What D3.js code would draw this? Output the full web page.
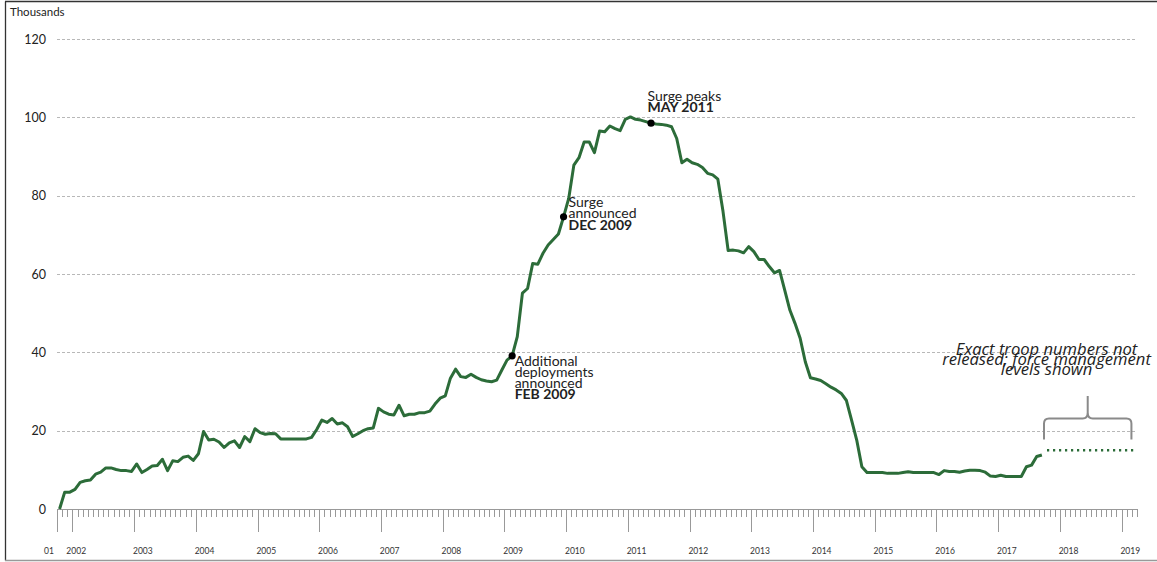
<!DOCTYPE html>
<html>
<head>
<meta charset="utf-8">
<script src="https://cdn.jsdelivr.net/npm/d3@7"></script>
<style>
  html, body { margin: 0; padding: 0; background: #fff; }
  svg { display: block; font-family: Lato, "Open Sans", sans-serif; }
</style>
</head>
<body>
<svg id="chart" width="1157" height="562"></svg>
<script>
// ---- Data (thousands of US troops, monthly from Oct 2001) ----
const startLabel = "Oct 2001";
const troopValues = [
  0, 4.3, 4.3, 5.0, 6.8, 7.2, 7.4, 8.9, 9.4, 10.5, 10.5, 10.1,
  9.8, 9.8, 9.6, 11.5, 9.3, 10.1, 11.0, 11.1, 12.7, 9.8, 12.3, 12.1,
  13.2, 13.5, 12.4, 14.1, 19.8, 17.6, 17.8, 17.1, 15.7, 16.9, 17.4, 15.7,
  18.5, 17.2, 20.5, 19.5, 19.1, 19.3, 19.2, 17.9, 17.9, 17.9, 17.9, 17.9,
  17.9, 18.3, 20.3, 22.7, 22.1, 23.1, 21.7, 22.0, 21.0, 18.5, 19.2, 20.0,
  20.5, 20.7, 25.7, 24.8, 24.2, 24.0, 26.5, 23.8, 24.2, 24.2, 24.6, 24.6,
  25.0, 26.8, 28.3, 28.9, 33.4, 35.7, 33.8, 33.6, 34.4, 33.6, 33.0, 32.7,
  32.5, 32.9, 35.5, 38.0, 39.1, 44.0, 55.1, 56.3, 62.7, 62.5, 65.3, 67.4,
  68.8, 70.2, 74.6, 79.3, 87.8, 89.7, 93.7, 93.7, 91.0, 96.5, 96.3, 97.8,
  97.1, 96.6, 99.5, 100.1, 99.5, 99.3, 98.9, 98.5, 98.3, 98.2, 98.0, 97.6,
  94.6, 88.4, 89.3, 88.4, 88.0, 87.2, 85.7, 85.3, 84.2, 76.0, 66.0, 66.1,
  65.9, 65.4, 67.0, 65.7, 63.7, 63.7, 61.9, 60.3, 60.9, 55.9, 50.8, 47.4,
  43.6, 37.6, 33.5, 33.2, 32.8, 32.0, 31.1, 30.4, 29.5, 27.7, 22.7, 17.6,
  10.8, 9.3, 9.3, 9.3, 9.3, 9.1, 9.1, 9.1, 9.3, 9.5, 9.3, 9.3,
  9.3, 9.3, 9.3, 8.8, 9.8, 9.6, 9.6, 9.4, 9.7, 9.9, 9.9, 9.8,
  9.4, 8.4, 8.3, 8.6, 8.3, 8.3, 8.3, 8.3, 10.8, 11.2, 13.4, 13.8
];
// Force management levels (months after the solid series)
const levelStartIndex = 192;
const levelValues = [15, 15, 15, 15, 15, 15, 15, 15, 15, 15, 15, 15, 15, 15, 15, 15, 15, 15];
const totalMonths = 210;

// Axis labels
const yTicks = [0, 20, 40, 60, 80, 100, 120];
const yearLabels = ["01", "2002", "2003", "2004", "2005", "2006", "2007", "2008", "2009", "2010",
                    "2011", "2012", "2013", "2014", "2015", "2016", "2017", "2018", "2019"];
const yearBoundaries = [0, 3, 15, 27, 39, 51, 63, 75, 87, 99, 111, 123, 135, 147, 159, 171, 183, 195, 207];

// Annotations
const annotations = [
  { index: 88, lines: ["Additional", "deployments", "announced"], bold: "FEB 2009" },
  { index: 98, lines: ["Surge", "announced"], bold: "DEC 2009" },
  { index: 115, lines: ["Surge peaks"], bold: "MAY 2011" }
];
const noteLines = ["Exact troop numbers not", "released; force management", "levels shown"];

// ---- Drawing ----
const svg = d3.select("#chart");
const x = d3.scaleLinear().domain([0, totalMonths]).range([57, 1137]);
const y = d3.scaleLinear().domain([0, 120]).range([509, 39]);
const green = "#2c6c39";

// frame
svg.append("line").attr("x1", 5.5).attr("x2", 5.5).attr("y1", 1.5).attr("y2", 560.5).attr("stroke", "#333").attr("stroke-width", 1.3);
svg.append("line").attr("x1", 5).attr("x2", 1157).attr("y1", 1.5).attr("y2", 1.5).attr("stroke", "#333").attr("stroke-width", 1.3);
svg.append("line").attr("x1", 5).attr("x2", 1157).attr("y1", 560.5).attr("y2", 560.5).attr("stroke", "#999").attr("stroke-width", 1.3);

// "Thousands"
svg.append("text").attr("x", 10).attr("y", 16).attr("font-size", 11.5).attr("fill", "#222").text("Thousands");

// gridlines & y labels
const gridTicks = yTicks.filter(d => d > 0);
svg.append("g").selectAll("line").data(gridTicks).join("line")
  .attr("x1", x(0)).attr("x2", x(totalMonths))
  .attr("y1", d => Math.round(y(d)) + 0.5).attr("y2", d => Math.round(y(d)) + 0.5)
  .attr("stroke", "#b8b8b8").attr("stroke-width", 1).attr("stroke-dasharray", "3,2");
svg.append("g").selectAll("text").data(yTicks).join("text")
  .attr("x", 46).attr("y", d => y(d)).attr("dy", "0.36em")
  .attr("text-anchor", "end").attr("font-size", 12.5).attr("fill", "#222")
  .text(d => d);

// x axis
const gx = svg.append("g");
gx.append("line").attr("x1", x(0)).attr("x2", x(totalMonths)).attr("y1", 509.5).attr("y2", 509.5)
  .attr("stroke", "#999").attr("stroke-width", 1.2);
gx.selectAll("line.minor").data(d3.range(0, totalMonths + 1)).join("line").attr("class", "minor")
  .attr("x1", d => Math.round(x(d)) + 0.5).attr("x2", d => Math.round(x(d)) + 0.5)
  .attr("y1", 509).attr("y2", 517).attr("stroke", "#999").attr("stroke-width", 1);
gx.selectAll("line.major").data(yearBoundaries).join("line").attr("class", "major")
  .attr("x1", d => Math.round(x(d)) + 0.5).attr("x2", d => Math.round(x(d)) + 0.5)
  .attr("y1", 509).attr("y2", 532).attr("stroke", "#999").attr("stroke-width", 1);
gx.selectAll("text").data(yearLabels).join("text")
  .attr("x", (d, i) => x(yearBoundaries[i]) + (i === 0 ? -8 : i === 1 ? 3.8 : 8.7))
  .attr("y", 554).attr("text-anchor", "middle").attr("font-size", 8.5).attr("fill", "#333")
  .text(d => d);

// main line
const px = i => x(i + 0.5);
svg.append("path").datum(troopValues)
  .attr("fill", "none").attr("stroke", green).attr("stroke-width", 3).attr("stroke-linejoin", "round")
  .attr("d", d3.line().x((d, i) => px(i)).y(d => y(d)));

// force management level dotted line
svg.append("path").datum(levelValues)
  .attr("fill", "none").attr("stroke", green).attr("stroke-width", 2.5).attr("stroke-dasharray", "2.2,3.8")
  .attr("d", d3.line().x((d, i) => px(levelStartIndex + i)).y(d => y(d)));

// annotation dots and text
annotations.forEach(a => {
  const cx = px(a.index), cy = y(troopValues[a.index]);
  svg.append("circle").attr("cx", cx).attr("cy", cy).attr("r", 3.6).attr("fill", "#000");
});
// FEB 2009
(function () {
  const a = annotations[0];
  const tx = px(a.index) + 2.5, ty = y(troopValues[a.index]);
  const t = svg.append("text").attr("font-size", 14).attr("fill", "#222");
  a.lines.forEach((l, k) => t.append("tspan").attr("x", tx).attr("y", ty + 10 + k * 11).text(l));
  t.append("tspan").attr("x", tx).attr("y", ty + 10 + a.lines.length * 11).attr("font-weight", "bold").text(a.bold);
})();
// DEC 2009
(function () {
  const a = annotations[1];
  const tx = px(a.index) + 5, ty = y(troopValues[a.index]);
  const t = svg.append("text").attr("font-size", 14).attr("fill", "#222");
  a.lines.forEach((l, k) => t.append("tspan").attr("x", tx).attr("y", ty - 10 + k * 11.5).text(l));
  t.append("tspan").attr("x", tx).attr("y", ty - 10 + a.lines.length * 11.5).attr("font-weight", "bold").text(a.bold);
})();
// MAY 2011
(function () {
  const a = annotations[2];
  const tx = px(a.index) - 3.5, ty = y(troopValues[a.index]);
  const t = svg.append("text").attr("font-size", 14).attr("fill", "#222");
  t.append("tspan").attr("x", tx).attr("y", ty - 22).text(a.lines[0]);
  t.append("tspan").attr("x", tx).attr("y", ty - 11).attr("font-weight", "bold").text(a.bold);
})();

// brace over the force-management period
const bx0 = px(levelStartIndex) - 3, bx1 = px(levelStartIndex + levelValues.length - 1) - 3;
const bmid = (bx0 + bx1) / 2, byTop = 418.5, byBot = 439.5, byPeak = 396;
svg.append("path")
  .attr("d", `M${bx0},${byBot} V${byTop + 5} Q${bx0},${byTop} ${bx0 + 5},${byTop} H${bmid - 5} Q${bmid},${byTop} ${bmid},${byTop - 6} V${byPeak}` +
             ` M${bmid},${byTop - 6} Q${bmid},${byTop} ${bmid + 5},${byTop} H${bx1 - 5} Q${bx1},${byTop} ${bx1},${byTop + 5} V${byBot}`)
  .attr("fill", "none").attr("stroke", "#8a8a8a").attr("stroke-width", 2);

const note = svg.append("text").attr("font-size", 16.6).attr("font-style", "italic")
  .attr("font-family", "'Open Sans', sans-serif")
  .attr("text-anchor", "middle").attr("fill", "#222");
noteLines.forEach((l, k) => note.append("tspan").attr("x", 1046.5).attr("y", 355 + k * 10).text(l));
</script>
</body>
</html>
